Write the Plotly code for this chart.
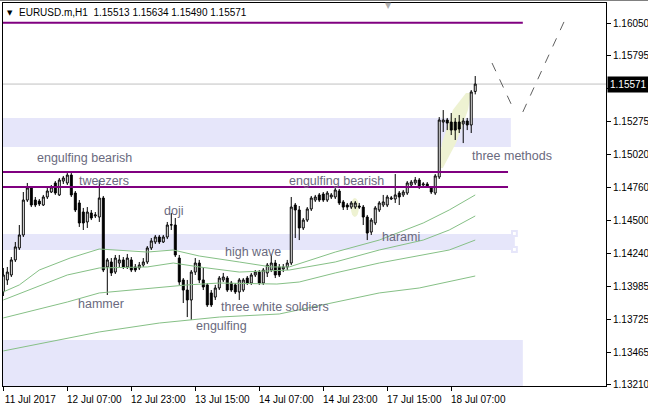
import plotly.graph_objects as go

# ---------------- data ----------------
bar_index = list(range(119))

opens = [1.13940, 1.14034, 1.14073, 1.14191, 1.14285, 1.14387, 1.14661, 1.14756, 1.14661, 1.14653,
         1.14622, 1.14685, 1.14724, 1.14795, 1.14701, 1.14810, 1.14795, 1.14857, 1.14716, 1.14638,
         1.14567, 1.14489, 1.14559, 1.14536, 1.14528, 1.14677, 1.14136, 1.14175, 1.14096, 1.14167,
         1.14191, 1.14136, 1.14191, 1.14136, 1.14128, 1.14151, 1.14175, 1.14285, 1.14332, 1.14371,
         1.14332, 1.14371, 1.14465, 1.14465, 1.14206, 1.14034, 1.13955, 1.13877, 1.14096, 1.14167,
         1.14034, 1.13995, 1.13932, 1.13900, 1.13971, 1.14034, 1.14049, 1.14010, 1.13995, 1.13940,
         1.13955, 1.14049, 1.14010, 1.14073, 1.14096, 1.14010, 1.14089, 1.14112, 1.14167, 1.14136,
         1.14120, 1.14136, 1.14167, 1.14622, 1.14583, 1.14442, 1.14504, 1.14591, 1.14661, 1.14701,
         1.14708, 1.14661, 1.14685, 1.14685, 1.14732, 1.14646, 1.14622, 1.14606, 1.14606, 1.14614,
         1.14606, 1.14528, 1.14410, 1.14481, 1.14583, 1.14622, 1.14622, 1.14669, 1.14669, 1.14716,
         1.14701, 1.14716, 1.14779, 1.14795, 1.14818, 1.14779, 1.14787, 1.14756, 1.14716, 1.14842,
         1.15273, 1.15289, 1.15273, 1.15273, 1.15273, 1.15258, 1.15281, 1.15250, 1.15513]

highs = [1.14128, 1.14136, 1.14214, 1.14332, 1.14465, 1.14724, 1.14795, 1.14771, 1.14685, 1.14669,
         1.14701, 1.14756, 1.14779, 1.14810, 1.14834, 1.14850, 1.14873, 1.14873, 1.14732, 1.14661,
         1.14599, 1.14606, 1.14583, 1.14567, 1.14818, 1.14693, 1.14206, 1.14206, 1.14230, 1.14230,
         1.14214, 1.14238, 1.14214, 1.14159, 1.14175, 1.14206, 1.14300, 1.14363, 1.14387, 1.14387,
         1.14387, 1.14489, 1.14559, 1.14520, 1.14230, 1.14049, 1.14034, 1.14112, 1.14206, 1.14191,
         1.14128, 1.14010, 1.13955, 1.13995, 1.14065, 1.14089, 1.14065, 1.14026, 1.14010, 1.14049,
         1.14049, 1.14065, 1.14089, 1.14112, 1.14112, 1.14128, 1.14167, 1.14230, 1.14191, 1.14159,
         1.14159, 1.14191, 1.14685, 1.14638, 1.14614, 1.14520, 1.14606, 1.14693, 1.14701, 1.14716,
         1.14724, 1.14732, 1.14716, 1.14763, 1.14748, 1.14661, 1.14638, 1.14653, 1.14653, 1.14638,
         1.14622, 1.14544, 1.14520, 1.14614, 1.14653, 1.14701, 1.14701, 1.14693, 1.14865, 1.14732,
         1.14740, 1.14810, 1.14818, 1.14842, 1.14834, 1.14802, 1.14802, 1.14771, 1.14865, 1.15312,
         1.15367, 1.15305, 1.15344, 1.15305, 1.15328, 1.15305, 1.15305, 1.15524, 1.15634]

lows = [1.13908, 1.13995, 1.14057, 1.14175, 1.14269, 1.14371, 1.14646, 1.14606, 1.14606, 1.14614,
        1.14614, 1.14669, 1.14716, 1.14701, 1.14693, 1.14787, 1.14779, 1.14685, 1.14567, 1.14450,
        1.14426, 1.14442, 1.14504, 1.14520, 1.14489, 1.14096, 1.13916, 1.14065, 1.14081, 1.14136,
        1.14120, 1.14120, 1.14096, 1.14096, 1.14112, 1.14136, 1.14159, 1.14269, 1.14316, 1.14316,
        1.14324, 1.14355, 1.14426, 1.14214, 1.13995, 1.13853, 1.13743, 1.13720, 1.14073, 1.14010,
        1.13955, 1.13822, 1.13822, 1.13877, 1.13955, 1.14018, 1.13940, 1.13940, 1.13924, 1.13877,
        1.13940, 1.13995, 1.13995, 1.14057, 1.13995, 1.13995, 1.14057, 1.14096, 1.14049, 1.14057,
        1.14096, 1.14112, 1.14151, 1.14363, 1.14347, 1.14426, 1.14489, 1.14575, 1.14646, 1.14646,
        1.14646, 1.14646, 1.14669, 1.14669, 1.14622, 1.14583, 1.14583, 1.14591, 1.14591, 1.14591,
        1.14465, 1.14347, 1.14387, 1.14465, 1.14567, 1.14606, 1.14606, 1.14661, 1.14638, 1.14622,
        1.14685, 1.14701, 1.14763, 1.14779, 1.14748, 1.14763, 1.14756, 1.14708, 1.14701, 1.14826,
        1.15195, 1.15210, 1.15171, 1.15132, 1.15187, 1.15108, 1.15210, 1.15187, 1.15490]

closes = [1.14073, 1.14096, 1.14191, 1.14293, 1.14387, 1.14661, 1.14756, 1.14622, 1.14622, 1.14630,
          1.14685, 1.14732, 1.14763, 1.14716, 1.14818, 1.14834, 1.14857, 1.14701, 1.14583, 1.14481,
          1.14481, 1.14567, 1.14520, 1.14544, 1.14677, 1.14112, 1.14191, 1.14089, 1.14206, 1.14191,
          1.14136, 1.14206, 1.14112, 1.14112, 1.14151, 1.14175, 1.14285, 1.14340, 1.14371, 1.14332,
          1.14371, 1.14465, 1.14467, 1.14230, 1.14018, 1.13955, 1.13877, 1.14096, 1.14167, 1.14034,
          1.13979, 1.13838, 1.13838, 1.13971, 1.14049, 1.14057, 1.13955, 1.13955, 1.13940, 1.14034,
          1.14034, 1.14010, 1.14073, 1.14096, 1.14010, 1.14112, 1.14151, 1.14167, 1.14073, 1.14073,
          1.14136, 1.14167, 1.14606, 1.14583, 1.14442, 1.14504, 1.14591, 1.14677, 1.14685, 1.14661,
          1.14661, 1.14716, 1.14701, 1.14740, 1.14638, 1.14606, 1.14606, 1.14638, 1.14638, 1.14606,
          1.14528, 1.14402, 1.14504, 1.14599, 1.14638, 1.14646, 1.14685, 1.14677, 1.14701, 1.14685,
          1.14724, 1.14795, 1.14802, 1.14818, 1.14763, 1.14787, 1.14771, 1.14724, 1.14850, 1.15289,
          1.15289, 1.15265, 1.15210, 1.15210, 1.15218, 1.15281, 1.15250, 1.15509, 1.15571]

# moving-average style lines (values read at selected bars)
ma1_x = [0, 4, 9, 16.7, 24, 36, 42.5, 49, 59, 67, 71.5, 83, 94, 105, 111.5, 118]
ma1_y = [1.13940, 1.13995, 1.14112, 1.14206, 1.14277, 1.14253, 1.14269, 1.14222, 1.14175, 1.14136,
         1.14136, 1.14253, 1.14347, 1.14481, 1.14583, 1.14701]
ma2_x = [0, 16, 24, 36, 42.5, 49, 59, 71.5, 83, 94, 105, 111.5, 118]
ma2_y = [1.13877, 1.14073, 1.14128, 1.14136, 1.14167, 1.14136, 1.14096, 1.14112, 1.14175, 1.14269,
         1.14347, 1.14426, 1.14536]
ma3_x = [0, 16, 24, 46, 54, 68.4, 74, 83, 94, 105, 111.5, 118]
ma3_y = [1.13736, 1.13861, 1.13932, 1.13995, 1.14010, 1.14002, 1.14018, 1.14089, 1.14167, 1.14230,
         1.14269, 1.14347]
ma4_x = [0, 13.4, 24, 39, 46, 54, 69, 82.4, 94, 104, 118]
ma4_y = [1.13477, 1.13563, 1.13626, 1.13696, 1.13720, 1.13743, 1.13767, 1.13853, 1.13932, 1.13971,
         1.14065]

tick_pos = [0, 16, 32, 48, 64, 80, 96, 112]
tick_labels = ["11 Jul 2017", "12 Jul 07:00", "12 Jul 23:00", "13 Jul 15:00",
               "14 Jul 07:00", "14 Jul 23:00", "17 Jul 15:00", "18 Jul 07:00"]
price_ticks = [1.16050, 1.15795, 1.15535, 1.15275, 1.15020, 1.14760, 1.14500, 1.14240,
               1.13985, 1.13725, 1.13465, 1.13210]

hlines = [1.16052, 1.14881, 1.14763]
hline_ends = [129.9, 126.2, 126.2]
zones = [(1.15077, 1.15305, 126.9), (1.14269, 1.14395, 127.9), (1.13150, 1.13563, 129.9)]

patterns = ["engulfing bearish", "tweezers", "doji", "hammer", "high wave",
            "three white soldiers", "engulfing", "engulfing bearish", "harami", "three methods"]
pattern_x = [7.9, 18.4, 39.7, 18.2, 54.9, 53.9, 47.7, 70.9, 94.2, 116.7]
pattern_y = [1.14991, 1.14810, 1.14575, 1.13845, 1.14253, 1.13822, 1.13673, 1.14810, 1.14371, 1.15006]

last_price = 1.15571

# ---------------- figure ----------------
FONT = "Liberation Sans, Arial, sans-serif"
fig = go.Figure()

fig.add_trace(go.Candlestick(
    x=bar_index, open=opens, high=highs, low=lows, close=closes,
    increasing=dict(fillcolor="white", line=dict(color="black", width=1)),
    decreasing=dict(fillcolor="black", line=dict(color="black", width=1)),
    whiskerwidth=0, showlegend=False, hoverinfo="skip"))

for xs, ys in [(ma1_x, ma1_y), (ma2_x, ma2_y), (ma3_x, ma3_y), (ma4_x, ma4_y)]:
    fig.add_trace(go.Scatter(x=xs, y=ys, mode="lines",
                             line=dict(color="#86c086", width=1),
                             showlegend=False, hoverinfo="skip"))

shapes = []
LAV = "#E6E6FA"
for y0, y1, xe in zones:
    shapes.append(dict(type="rect", xref="x", yref="y", x0=-2, x1=xe, y0=y0, y1=y1,
                       fillcolor=LAV, line=dict(width=0), layer="below"))
# selection handles on the middle zone
for ya, yb in [(1.14379, 1.14418), (1.14254, 1.14293)]:
    shapes.append(dict(type="rect", xref="x", yref="y", x0=127.2, x1=128.4, y0=ya, y1=yb,
                       fillcolor="white", line=dict(color=LAV, width=2), layer="above"))
# current price line
shapes.append(dict(type="line", xref="paper", yref="y", x0=0, x1=1, y0=last_price, y1=last_price,
                   line=dict(color="#c0c0c0", width=1), layer="below"))
# pale highlight for "three methods"
shapes.append(dict(type="path", xref="x", yref="y", layer="below",
                   path="M 108.7 1.14912 L 109.9 1.14912 L 113.2 1.15108 L 116.2 1.15367 "
                        "L 116.9 1.15501 L 115.7 1.15501 L 112.4 1.15367 L 109.7 1.15108 Z",
                   fillcolor="#EEF2D2", line=dict(width=0)))
# small pale ellipse
shapes.append(dict(type="circle", xref="x", yref="y", x0=86.9, x1=88.9, y0=1.14528, y1=1.14677,
                   fillcolor="#EEF2D2", line=dict(width=0), layer="below"))
# purple horizontal lines
for yv, xe in zip(hlines, hline_ends):
    shapes.append(dict(type="line", xref="x", yref="y", x0=-2, x1=xe, y0=yv, y1=yv,
                       line=dict(color="#800080", width=2), layer="above"))
# dashed projection
shapes.append(dict(type="line", xref="x", yref="y", x0=122.2, y0=1.15736, x1=127.9, y1=1.15352,
                   line=dict(color="#606060", width=1, dash="dash"), layer="above"))
shapes.append(dict(type="line", xref="x", yref="y", x0=129.9, y0=1.15352, x1=140.4, y1=1.16073,
                   line=dict(color="#606060", width=1, dash="dash"), layer="above"))
# window top line
shapes.append(dict(type="line", xref="paper", yref="paper", x0=-0.01, x1=1.1, y0=1.0065, y1=1.0065,
                   line=dict(color="#808080", width=1)))

annotations = []
for t, xv, yv in zip(patterns, pattern_x, pattern_y):
    annotations.append(dict(text=t, x=xv, y=yv, xref="x", yref="y", xanchor="left", yanchor="middle",
                            showarrow=False, font=dict(family=FONT, size=12.5, color="#6a6a7e")))
annotations.append(dict(text="▼", x=0, y=1, xref="paper", yref="paper", xanchor="left", yanchor="top",
                        xshift=2, yshift=-4, showarrow=False,
                        font=dict(family="DejaVu Sans", size=7, color="black")))
annotations.append(dict(text="EURUSD.m,H1  1.15513 1.15634 1.15490 1.15571", x=0, y=1,
                        xref="paper", yref="paper", xanchor="left", yanchor="top",
                        xshift=14, yshift=-2, showarrow=False,
                        font=dict(family=FONT, size=10, color="black")))
annotations.append(dict(text="▼", x=0.6385, y=1, xref="paper", yref="paper", xanchor="center",
                        yanchor="middle", yshift=-2, showarrow=False,
                        font=dict(family="DejaVu Sans", size=8, color="#b0b0b0")))
annotations.append(dict(text="1.15571", x=1, y=last_price, xref="paper", yref="y", xanchor="left",
                        yanchor="middle", xshift=1, showarrow=False, bgcolor="black", borderpad=2,
                        font=dict(family=FONT, size=10, color="white")))

fig.update_layout(
    width=648, height=409,
    margin=dict(l=3, r=42, t=3, b=23, autoexpand=False),
    paper_bgcolor="white", plot_bgcolor="white",
    shapes=shapes, annotations=annotations,
    showlegend=False,
    xaxis=dict(range=[-0.08, 150.7], rangeslider=dict(visible=False),
               tickvals=tick_pos, ticktext=tick_labels, ticks="outside", ticklen=4,
               tickcolor="black", ticklabelshift=27, ticklabelstandoff=0,
               showline=True, linecolor="black", linewidth=1, mirror=True,
               showgrid=False, zeroline=False, automargin=False,
               tickfont=dict(family=FONT, size=10, color="black")),
    yaxis=dict(range=[1.13202, 1.16207], side="right",
               tickvals=price_ticks, ticktext=[f"{v:.5f}" for v in price_ticks],
               ticks="outside", ticklen=4, tickcolor="black",
               showline=True, linecolor="black", linewidth=1, mirror=True,
               showgrid=False, zeroline=False, automargin=False,
               tickfont=dict(family=FONT, size=10, color="black")),
)

fig.write_html("out.html", config={"displayModeBar": False},
               post_script="document.body.style.margin='0px';document.body.style.overflow='hidden';")
